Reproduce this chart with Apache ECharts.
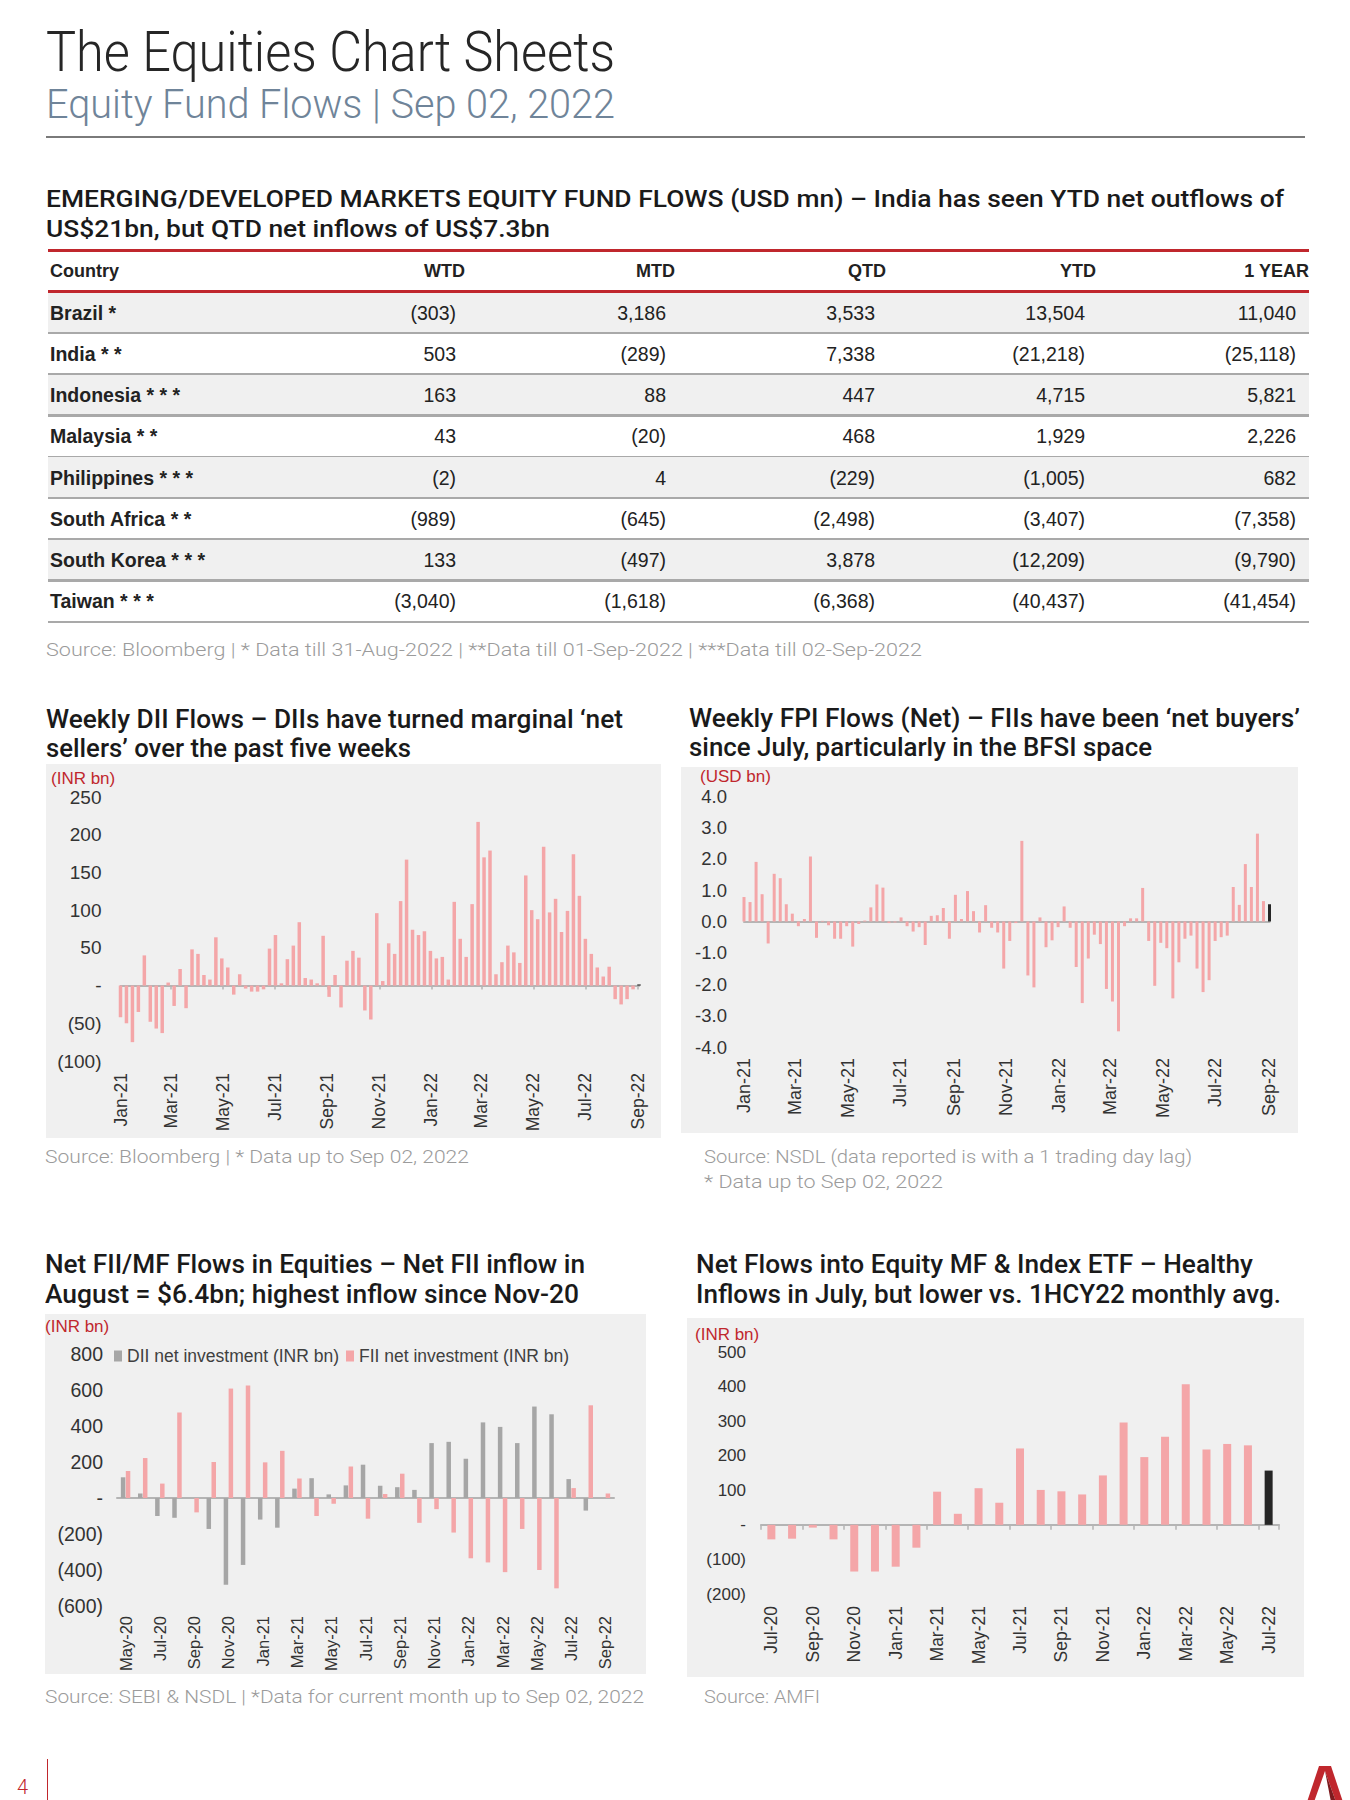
<!DOCTYPE html>
<html><head><meta charset="utf-8">
<script src="https://cdn.jsdelivr.net/npm/echarts@6/dist/echarts.min.js"></script>
<style>
html,body{margin:0;padding:0;background:#fff;}
#page{position:relative;width:1350px;height:1800px;overflow:hidden;background:#fff;font-family:"Liberation Sans",Arial,sans-serif;}
.t{position:absolute;white-space:nowrap;transform-origin:0 0;line-height:1;}
.box{position:absolute;background:#f0f0f0;}
.ln{position:absolute;}
.st{letter-spacing:5.5px;}
</style></head><body><div id="page"></div>
<script>
// ---------------- DATA ----------------
const weekStart = '2021-01-01';
const monthTicks = ['2021-01-01','2021-03-01','2021-05-01','2021-07-01','2021-09-01','2021-11-01','2022-01-01','2022-03-01','2022-05-01','2022-07-01','2022-09-01'];
const diiWeekly = [-42,-50,-75,-35,40,-48,-57,-63,4,-27,
  22,-30,48,42,14,8,64,36,24,-12,
  15,-4,-8,-8,-5,49,67,3,35,53,
  84,10,8,3,66,-15,14,-29,33,46,
  37,-33,-45,96,6,56,42,112,167,74,
  67,72,46,36,38,8,111,62,38,108,
  217,170,179,15,31,53,44,30,146,100,
  88,184,97,115,71,99,174,119,62,42,
  24,12,25,-18,-25,-18,-5,1.5];
const fpiWeekly = [0.78,0.62,1.90,0.87,-0.70,1.52,1.38,0.55,0.25,-0.15,
  0.08,2.07,-0.52,0.02,-0.12,-0.55,-0.55,-0.15,-0.80,-0.08,
  0.03,0.45,1.18,1.08,-0.05,-0.03,0.13,-0.15,-0.32,-0.18,
  -0.75,0.18,0.20,0.43,-0.55,0.85,0.08,0.97,0.33,-0.35,
  0.52,-0.20,-0.35,-1.50,-0.62,-0.05,2.57,-1.72,-2.10,0.13,
  -0.82,-0.60,-0.18,0.48,-0.20,-1.45,-2.60,-1.18,-0.42,-0.72,
  -2.15,-2.55,-3.50,-0.15,0.10,0.10,1.07,-0.62,-2.05,-0.68,
  -0.85,-2.45,-1.30,-0.55,-0.45,-1.50,-2.25,-1.87,-0.62,-0.50,
  -0.45,1.10,0.53,1.83,1.10,2.80,0.65,0.55];
const flowMonths = ['May-20','Jun-20','Jul-20','Aug-20','Sep-20','Oct-20','Nov-20','Dec-20','Jan-21','Feb-21','Mar-21','Apr-21','May-21','Jun-21','Jul-21','Aug-21','Sep-21','Oct-21','Nov-21','Dec-21','Jan-22','Feb-22','Mar-22','Apr-22','May-22','Jun-22','Jul-22','Aug-22','Sep-22'];
const diiMonthly = [115,25,-100,-110,0,-172,-482,-372,-120,-165,52,110,20,70,185,68,60,45,305,312,218,420,395,305,508,465,105,-70,0];
const fiiMonthly = [150,222,80,475,-80,200,608,625,198,262,108,-100,-32,175,-115,22,135,-138,-62,-192,-335,-358,-412,-172,-400,-502,55,515,25];
const mfMonths = ['Jul-20','Aug-20','Sep-20','Oct-20','Nov-20','Dec-20','Jan-21','Feb-21','Mar-21','Apr-21','May-21','Jun-21','Jul-21','Aug-21','Sep-21','Oct-21','Nov-21','Dec-21','Jan-22','Feb-22','Mar-22','Apr-22','May-22','Jun-22','Jul-22'];
const mfFlows = [-42,-40,-8,-42,-135,-135,-121,-66,96,32,106,64,221,101,97,88,143,296,196,255,407,218,234,230,157];
const tableHeaders = ['Country','WTD','MTD','QTD','YTD','1 YEAR'];
const tableCountries = ['Brazil','India','Indonesia','Malaysia','Philippines','South Africa','South Korea','Taiwan'];
const tableStars = ['*','**','***','**','***','**','***','***'];
const tableWTD = [-303,503,163,43,-2,-989,133,-3040];
const tableMTD = [3186,-289,88,-20,4,-645,-497,-1618];
const tableQTD = [3533,7338,447,468,-229,-2498,3878,-6368];
const tableYTD = [13504,-21218,4715,1929,-1005,-3407,-12209,-40437];
const table1Y = [11040,-25118,5821,2226,682,-7358,-9790,-41454];

// ---------------- HELPERS ----------------
const page = document.getElementById('page');
const PINK = '#f4a6a8', GREY = '#a6a6a6', DARK = '#262626', RED = '#c0272d';
const MON = ['Jan','Feb','Mar','Apr','May','Jun','Jul','Aug','Sep','Oct','Nov','Dec'];
function ts(s){const p=s.split('-').map(Number);return new Date(p[0],p[1]-1,p[2]).getTime();}
function weekly(start,n){const p=start.split('-').map(Number);const out=[];for(let i=0;i<n;i++)out.push(new Date(p[0],p[1]-1,p[2]+7*i).getTime());return out;}
function monLabel(v){const d=new Date(v);return MON[d.getMonth()]+'-'+String(d.getFullYear()).slice(2);}
function paren(v){return v===0?'-':(v<0?'('+Math.abs(v).toLocaleString('en-US')+')':v.toLocaleString('en-US'));}
const fitList=[];
function T(x,base,text,size,opt){
  opt=opt||{};
  const d=document.createElement('div');d.className='t';
  if(opt.html)d.innerHTML=text;else d.textContent=text;
  d.style.fontSize=size+'px';
  d.style.fontFamily=opt.family||'"Liberation Sans",Arial,sans-serif';
  d.style.fontWeight=opt.weight||400;
  d.style.color=opt.color||'#222';
  d.style.top=(base-0.84*size)+'px';
  d.style.left=(opt.right!==undefined?opt.right:x)+'px';
  page.appendChild(d);
  if(opt.w)fitList.push([d,opt.w]);
  if(opt.right!==undefined){const w=d.getBoundingClientRect().width;d.style.left=(opt.right-w)+'px';}
  return d;
}
function L(x,y,w,h,c){const d=document.createElement('div');d.className='ln';d.style.cssText+=`left:${x}px;top:${y}px;width:${w}px;height:${h}px;background:${c};`;page.appendChild(d);return d;}
function box(x,y,w,h){const d=document.createElement('div');d.className='box';d.style.cssText+=`left:${x}px;top:${y}px;width:${w}px;height:${h}px;`;page.appendChild(d);return d;}

// ---------------- HEADER ----------------
const TF='Roboto, "Noto Sans", sans-serif';
T(46,71,'The Equities Chart Sheets',55,{family:TF,weight:300,color:'#262626',w:569});
T(46,119,'Equity Fund Flows | Sep 02, 2022',40,{family:TF,weight:300,color:'#6f8499',w:569});
L(46,136,1259,2,'#7a7a7a');

// ---------------- TABLE ----------------
T(46,208,'EMERGING/DEVELOPED MARKETS EQUITY FUND FLOWS (USD mn) – India has seen YTD net outflows of',23.5,{family:TF,weight:500,color:'#1a1a1a',w:1238});
T(46,238,'US$21bn, but  QTD net inflows of US$7.3bn',23.5,{family:TF,weight:500,color:'#1a1a1a',w:504});
const tRowTop=292,tRowH=41.25,tLeft=48,tWidth=1261;
const tCols=[tableWTD,tableMTD,tableQTD,tableYTD,table1Y];
const valRight=[456,666,875,1085,1296], hdrRight=[465,675,886,1096,1309];
for(let i=0;i<tableCountries.length;i++){
  const top=tRowTop+i*tRowH;
  if(i%2===0)L(tLeft,top,tWidth,tRowH,'#f0f0f0');
  L(tLeft,top+tRowH-1.5,tWidth,2.5,'#a9a9a9');
}
L(tLeft,248.5,tWidth,3,RED);
L(tLeft,289.5,tWidth,3,RED);
T(50,277,tableHeaders[0],18,{weight:700,color:'#222'});
for(let c=1;c<tableHeaders.length;c++)T(0,277,tableHeaders[c],18,{weight:700,color:'#222',right:hdrRight[c-1]});
for(let i=0;i<tableCountries.length;i++){
  const base=tRowTop+i*tRowH+28;
  T(50,base,tableCountries[i]+' <span class="st">'+tableStars[i]+'</span>',19.5,{weight:700,color:'#222',html:true});
  for(let c=0;c<5;c++)T(0,base,paren(tCols[c][i]),19.5,{color:'#222',right:valRight[c]});
}
const SRC={family:TF,weight:300,color:'#9b9b9b'};
T(46,657,'Source: Bloomberg | * Data till 31-Aug-2022 | **Data till 01-Sep-2022 | ***Data till 02-Sep-2022',18.5,Object.assign({w:876},SRC));

// ---------------- CHART TITLES & SOURCES ----------------
const CT={family:TF,weight:500,color:'#1a1a1a'};
T(46,728,'Weekly DII Flows – DIIs have turned marginal ‘net',25,Object.assign({w:577},CT));
T(46,757,'sellers’ over the past five weeks',25,Object.assign({w:365},CT));
T(689,727,'Weekly FPI Flows (Net) – FIIs have been ‘net buyers’',25,Object.assign({w:611},CT));
T(689,756,'since July, particularly in the BFSI space',25,Object.assign({w:463},CT));
T(45,1273,'Net FII/MF Flows in Equities – Net FII inflow in',25,Object.assign({w:540},CT));
T(45,1303,'August = $6.4bn; highest inflow since Nov-20',25,Object.assign({w:534},CT));
T(696,1273,'Net Flows into Equity MF & Index ETF – Healthy',25,Object.assign({w:557},CT));
T(696,1303,'Inflows in July, but lower vs. 1HCY22 monthly avg.',25,Object.assign({w:585},CT));
T(45,1164,'Source: Bloomberg | * Data up to Sep 02, 2022',18.5,Object.assign({w:424},SRC));
T(704,1164,'Source: NSDL (data reported is with a 1 trading day lag)',18.5,Object.assign({w:488},SRC));
T(704,1189,'* Data up to Sep 02, 2022',18.5,Object.assign({w:239},SRC));
T(45,1704,'Source: SEBI & NSDL | *Data for current month up to Sep 02, 2022',18.5,Object.assign({w:599},SRC));
T(704,1704,'Source: AMFI',18.5,Object.assign({w:116},SRC));

// footer
T(17,1794,'4',20,{family:TF,weight:300,color:RED});
L(46.5,1759,1.5,41,RED);
const logo=document.createElementNS('http://www.w3.org/2000/svg','svg');
logo.setAttribute('width','40');logo.setAttribute('height','36');
logo.style.cssText='position:absolute;left:1305px;top:1766px;';
logo.innerHTML='<polygon points="14,0 26,0 38,36 31,36 20,5 9,36 2,36" fill="#c0272d"/><polygon points="20,5 31,36 26,36" fill="#7d1a1e"/>';
page.appendChild(logo);

for(const [el,w] of fitList){const r=el.getBoundingClientRect().width;el.style.transform='scaleX('+(w/r)+')';}

// ---------------- CHARTS ----------------
const FONT='"Liberation Sans", Arial, sans-serif';
function unitText(txt,left,cy){return {type:'text',left:left,top:cy-9,style:{text:txt,fill:RED,font:'17px '+FONT}};}
function yAx(min,max,interval,size,margin,fmt){
  return {type:'value',min:min,max:max,interval:interval,axisLine:{show:false},axisTick:{show:false},splitLine:{show:false},
    axisLabel:{fontSize:size,color:'#333',fontFamily:FONT,margin:margin,formatter:fmt}};
}
function mk(el){return echarts.init(el,null,{renderer:'svg'});}
function weeklyX(min,max,tk,labelSize,labelMargin,showTicks){
  return [
    {type:'value',min:min,max:max,position:'bottom',axisLine:{show:false,onZero:false},axisTick:{show:false},splitLine:{show:false},
      axisLabel:{customValues:tk,rotate:90,margin:labelMargin,fontSize:labelSize,color:'#333',fontFamily:FONT,formatter:monLabel,hideOverlap:false,showMinLabel:true,showMaxLabel:true}},
    {type:'value',min:min,max:max,position:'bottom',axisLine:{show:true,onZero:true,lineStyle:{color:'#b4b4b4',width:2}},
      axisTick:{show:showTicks,customValues:tk,length:4,lineStyle:{color:'#b4b4b4',width:1.5}},axisLabel:{show:false},splitLine:{show:false}}
  ];
}

// Chart 1: weekly DII
(function(){
  const el=box(46,764,615,374);
  const ch=mk(el);
  const dates=weekly(weekStart,diiWeekly.length);
  const tk=monthTicks.map(ts);
  ch.setOption({
    animation:false,
    textStyle:{fontFamily:FONT},
    graphic:[unitText('(INR bn)',5,15)],
    grid:{left:74.5,right:22,top:33,bottom:77},
    xAxis:weeklyX(ts(weekStart),dates[dates.length-1],tk,17.5,12,true),
    yAxis:yAx(-100,250,50,19,19,paren),
    series:[{type:'bar',xAxisIndex:0,barWidth:3.5,
      data:diiWeekly.map((v,i)=>[dates[i],v]),
      itemStyle:{color:p=>p.dataIndex===diiWeekly.length-1?DARK:PINK}}]
  });
})();

// Chart 2: weekly FPI
(function(){
  const el=box(681,767,617,366);
  const ch=mk(el);
  const dates=weekly(weekStart,fpiWeekly.length);
  const tk=monthTicks.map(ts);
  ch.setOption({
    animation:false,
    textStyle:{fontFamily:FONT},
    graphic:[unitText('(USD bn)',19,9.5)],
    grid:{left:63,right:28.5,top:29,bottom:86},
    xAxis:weeklyX(ts(weekStart),dates[dates.length-1],tk,18,11,false),
    yAxis:yAx(-4,4,1,18.5,17,v=>v.toFixed(1)),
    series:[{type:'bar',xAxisIndex:0,barWidth:3,
      data:fpiWeekly.map((v,i)=>[dates[i],v]),
      itemStyle:{color:p=>p.dataIndex===fpiWeekly.length-1?DARK:PINK}}]
  });
})();

// Chart 3: monthly DII / FII
(function(){
  const el=box(45,1314,601,360);
  const ch=mk(el);
  ch.setOption({
    animation:false,
    textStyle:{fontFamily:FONT},
    graphic:[unitText('(INR bn)',0,13)],
    legend:{left:69,top:33,padding:0,itemWidth:8,itemHeight:11,itemGap:7,icon:'rect',
      textStyle:{fontSize:17.5,color:'#404040',fontFamily:FONT}},
    grid:{left:72,right:32,top:40,bottom:66},
    xAxis:[
      {type:'category',data:flowMonths,position:'bottom',axisLine:{show:false,onZero:false},axisTick:{show:false},
        axisLabel:{interval:1,rotate:90,margin:10,fontSize:16.5,color:'#333',fontFamily:FONT}},
      {type:'category',data:flowMonths,position:'bottom',axisLine:{show:true,onZero:true,lineStyle:{color:'#b4b4b4',width:2}},
        axisTick:{show:false},axisLabel:{show:false}}
    ],
    yAxis:yAx(-600,800,200,19.5,14,paren),
    series:[
      {name:'DII net investment (INR bn)',type:'bar',xAxisIndex:0,barWidth:4.5,barGap:'10%',data:diiMonthly,itemStyle:{color:GREY}},
      {name:'FII net investment (INR bn)',type:'bar',xAxisIndex:0,barWidth:4.5,barGap:'10%',data:fiiMonthly,itemStyle:{color:PINK}}
    ]
  });
})();

// Chart 4: monthly MF flows
(function(){
  const el=box(687,1318,617,359);
  const ch=mk(el);
  ch.setOption({
    animation:false,
    textStyle:{fontFamily:FONT},
    graphic:[unitText('(INR bn)',8,17)],
    grid:{left:74,right:25,top:34,bottom:83},
    xAxis:[
      {type:'category',data:mfMonths,position:'bottom',axisLine:{show:false,onZero:false},axisTick:{show:false},
        axisLabel:{interval:1,rotate:90,margin:12,fontSize:17.5,color:'#333',fontFamily:FONT}},
      {type:'category',data:mfMonths,position:'bottom',axisLine:{show:true,onZero:true,lineStyle:{color:'#b4b4b4',width:2}},
        axisTick:{show:true,interval:1,length:5,lineStyle:{color:'#b4b4b4',width:1.5}},axisLabel:{show:false}}
    ],
    yAxis:yAx(-200,500,100,17,15,paren),
    series:[{type:'bar',xAxisIndex:0,barWidth:8,data:mfFlows,
      itemStyle:{color:p=>p.dataIndex===mfFlows.length-1?DARK:PINK}}]
  });
})();
</script></body></html>
